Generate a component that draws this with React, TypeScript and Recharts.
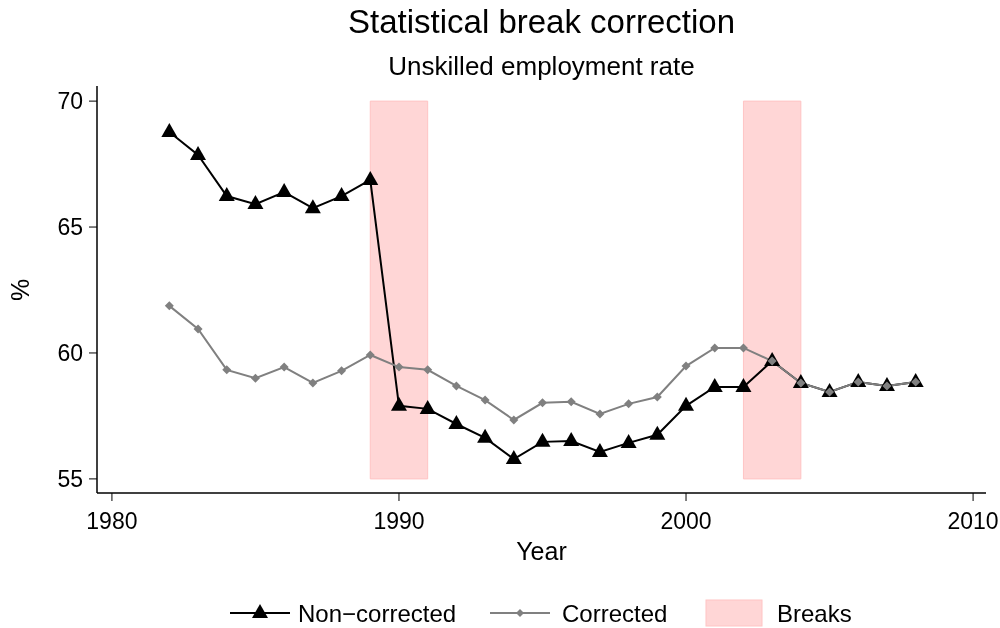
import React from "react";
import { ComposedChart, Line, XAxis, YAxis, ReferenceArea } from "recharts";

const years = [
  1982, 1983, 1984, 1985, 1986, 1987, 1988, 1989, 1990, 1991, 1992, 1993, 1994, 1995,
  1996, 1997, 1998, 1999, 2000, 2001, 2002, 2003, 2004, 2005, 2006, 2007, 2008,
];
const nonCorrected = [
  68.77, 67.86, 66.23, 65.91, 66.39, 65.75, 66.23, 66.87, 57.9, 57.78, 57.18, 56.63, 55.79,
  56.47, 56.5, 56.07, 56.43, 56.75, 57.9, 58.65, 58.65, 59.68, 58.81, 58.45, 58.85, 58.69, 58.85,
];
const corrected = [
  61.87, 60.95, 59.33, 59.0, 59.44, 58.81, 59.29, 59.92, 59.44, 59.33, 58.69, 58.13, 57.34,
  58.02, 58.06, 57.58, 57.98, 58.25, 59.48, 60.2, 60.2, 59.68, 58.81, 58.45, 58.85, 58.69, 58.85,
];
const breaks = [
  [1989, 1991],
  [2002, 2004],
];
const xTicks = [1980, 1990, 2000, 2010];
const yTicks = [55, 60, 65, 70];

const data = years.map((year, i) => ({ year, non: nonCorrected[i], cor: corrected[i] }));

const FONT = '"Liberation Sans", Arial, Helvetica, sans-serif';
const PINK = "#ffd6d6";

function Triangle(props: any) {
  const { cx, cy, index } = props;
  if (cx == null || cy == null) return <g key={index} />;
  return (
    <path
      key={index}
      d={`M${cx},${cy - 9} L${cx + 8},${cy + 5} L${cx - 8},${cy + 5} Z`}
      fill="#000"
    />
  );
}

function Diamond(props: any) {
  const { cx, cy, index } = props;
  if (cx == null || cy == null) return <g key={index} />;
  return (
    <path
      key={index}
      d={`M${cx},${cy - 4.5} L${cx + 4.5},${cy} L${cx},${cy + 4.5} L${cx - 4.5},${cy} Z`}
      fill="#808080"
    />
  );
}

export default function App() {
  return (
    <div
      style={{
        position: "fixed",
        left: 0,
        top: 0,
        width: 1000,
        height: 628,
        background: "#fff",
        fontFamily: FONT,
        color: "#000",
      }}
    >
      <div style={{ position: "absolute", left: 0, width: 1083, top: 3, textAlign: "center", fontSize: 33 }}>
        Statistical break correction
      </div>
      <div style={{ position: "absolute", left: 0, width: 1083, top: 51, textAlign: "center", fontSize: 26 }}>
        Unskilled employment rate
      </div>

      <ComposedChart
        width={1000}
        height={628}
        data={data}
        margin={{ top: 86, right: 14, bottom: 105, left: 0 }}
      >
        {breaks.map(([a, b], i) => (
          <ReferenceArea
            key={i}
            x1={a}
            x2={b}
            y1={55}
            y2={70}
            fill={PINK}
            fillOpacity={1}
            stroke="#ffc4c4"
            strokeWidth={1}
            ifOverflow="visible"
          />
        ))}
        <XAxis
          dataKey="year"
          type="number"
          domain={[1979.48, 2010.45]}
          ticks={xTicks}
          allowDataOverflow
          height={30}
          tickSize={8}
          tickMargin={12}
          stroke="#000"
          tick={{ fill: "#000", fontSize: 23, fontFamily: FONT }}
          axisLine={{ stroke: "#000", strokeWidth: 1.5 }}
          tickLine={{ stroke: "#000", strokeWidth: 1 }}
        />
        <XAxis
          xAxisId="top"
          orientation="top"
          dataKey="year"
          type="number"
          domain={[1979.48, 2010.45]}
          height={0}
          tick={false}
          tickLine={false}
          axisLine={{ stroke: "#000", strokeWidth: 1.5 }}
        />
        <YAxis
          type="number"
          domain={[54.44, 70.6]}
          ticks={yTicks}
          allowDataOverflow
          width={97}
          tickSize={8}
          tickMargin={6}
          stroke="#000"
          tick={{ fill: "#000", fontSize: 23, fontFamily: FONT }}
          axisLine={{ stroke: "#000", strokeWidth: 1.5 }}
          tickLine={{ stroke: "#000", strokeWidth: 1 }}
        />
        <YAxis
          yAxisId="right"
          orientation="right"
          type="number"
          domain={[54.44, 70.6]}
          width={0}
          tick={false}
          tickLine={false}
          axisLine={{ stroke: "#000", strokeWidth: 1.5 }}
        />
        <Line
          dataKey="non"
          stroke="#000"
          strokeWidth={2}
          dot={Triangle}
          activeDot={false}
          isAnimationActive={false}
        />
        <Line
          dataKey="cor"
          stroke="#808080"
          strokeWidth={2}
          dot={Diamond}
          activeDot={false}
          isAnimationActive={false}
        />
      </ComposedChart>

      <div style={{ position: "absolute", left: 0, width: 1083, top: 537, textAlign: "center", fontSize: 25 }}>
        Year
      </div>
      <div
        style={{
          position: "absolute",
          left: 20,
          top: 290,
          fontSize: 25,
          transform: "translate(-50%, -50%) rotate(-90deg)",
        }}
      >
        %
      </div>

      <svg style={{ position: "absolute", left: 0, top: 590 }} width={1000} height={38}>
        <line x1={230} x2={290} y1={23} y2={23} stroke="#000" strokeWidth={2} />
        <path d="M260,14 L268,28 L252,28 Z" fill="#000" />
        <text x={298} y={32} fontSize={24} fontFamily={FONT}>Non−corrected</text>
        <line x1={490} x2={550} y1={23} y2={23} stroke="#808080" strokeWidth={2} />
        <path d="M520,19 L524,23 L520,27 L516,23 Z" fill="#808080" />
        <text x={562} y={32} fontSize={24} fontFamily={FONT}>Corrected</text>
        <rect x={706} y={10} width={56} height={26} fill={PINK} stroke="#ffc4c4" />
        <text x={777} y={32} fontSize={24} fontFamily={FONT}>Breaks</text>
      </svg>
    </div>
  );
}
